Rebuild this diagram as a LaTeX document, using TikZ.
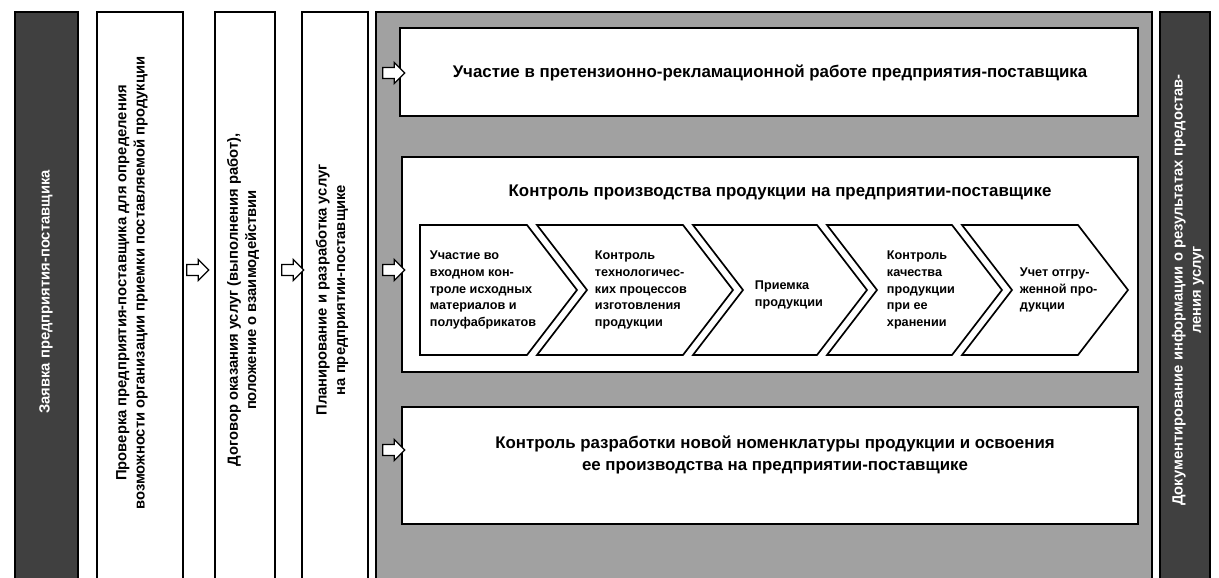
\documentclass[tikz,border=0pt]{standalone}
\usepackage{fontspec}
\setmainfont{Liberation Sans}
\usetikzlibrary{shapes.arrows}

\begin{document}
\begin{tikzpicture}[x=0.025cm,y=-0.025cm,
    darkcol/.style={fill=black!75,draw=black,line width=1.2pt},
    whitecol/.style={fill=white,draw=black,line width=1.2pt},
    panel/.style={fill=black!37,draw=black,line width=1.2pt},
    chev/.style={fill=white,draw=black,line width=1.2pt,line join=miter},
    coltext/.style={rotate=90,align=center,font=\bfseries\fontsize{10.5}{13}\selectfont},
    head/.style={align=center,font=\bfseries\fontsize{12}{15}\selectfont},
    chevtext/.style={anchor=west,align=left,font=\bfseries\fontsize{9}{12}\selectfont},
    blockarrow/.style={single arrow,fill=white,draw=black,line width=0.9pt,minimum height=0.55cm,inner xsep=0pt,inner ysep=3.5pt,single arrow head extend=3.5pt}]
    \clip (0,0) rectangle (1219,578);
    \fill[white] (0,0) rectangle (1219,578);
    % columns on the left
    \path[darkcol] (15,12) rectangle (78,590);
    \path[whitecol] (97,12) rectangle (183,590);
    \path[whitecol] (215,12) rectangle (275,590);
    \path[whitecol] (302,12) rectangle (368,590);
    \node[coltext,text=white] (request) at (46,292) {Заявка предприятия-поставщика};
    \node[coltext] (check) at (132,283) {Проверка предприятия-поставщика для определения\\возможности организации приемки поставляемой продукции};
    \node[coltext] (contract) at (243,300) {Договор оказания услуг (выполнения работ),\\положение о взаимодействии};
    \node[coltext] (plan) at (332,290) {Планирование и разработка услуг\\на предприятии-поставщике};
    \node[blockarrow] (a1) at (195,270) {};
    \node[blockarrow] (a2) at (290,270) {};
    % gray panel
    \path[panel] (376,12) rectangle (1152,590);
    \path[whitecol] (400,28) rectangle (1138,116);
    \path[whitecol] (402,157) rectangle (1138,372);
    \path[whitecol] (402,407) rectangle (1138,524);
    \node[blockarrow] (a3) at (391,73) {};
    \node[blockarrow] (a4) at (391,270) {};
    \node[blockarrow] (a5) at (391,450) {};
    \node[head] (claims) at (770,73) {Участие в претензионно-рекламационной работе предприятия-поставщика};
    \node[head] (prod) at (780,192) {Контроль производства продукции на предприятии-поставщике};
    \node[head] (newprod) at (775,455) {Контроль разработки новой номенклатуры продукции и освоения\\ее производства на предприятии-поставщике};
    % chevrons
    \draw[chev] (420,225) -- (527,225) -- (577,290) -- (527,355) -- (420,355) -- cycle;
    \draw[chev] (537,225) -- (683,225) -- (733,290) -- (683,355) -- (537,355) -- (587,290) -- cycle;
    \draw[chev] (693,225) -- (817,225) -- (867,290) -- (817,355) -- (693,355) -- (743,290) -- cycle;
    \draw[chev] (827,225) -- (952,225) -- (1002,290) -- (952,355) -- (827,355) -- (877,290) -- cycle;
    \draw[chev] (962,225) -- (1078,225) -- (1128,290) -- (1078,355) -- (962,355) -- (1012,290) -- cycle;
    \node[chevtext] (input) at (425,290) {Участие во\\входном кон-\\троле исходных\\материалов и\\полуфабрикатов};
    \node[chevtext] (process) at (590,290) {Контроль\\технологичес-\\ких процессов\\изготовления\\продукции};
    \node[chevtext] (accept) at (750,295) {Приемка\\продукции};
    \node[chevtext] (storage) at (882,290) {Контроль\\качества\\продукции\\при ее\\хранении};
    \node[chevtext] (shipped) at (1015,290) {Учет отгру-\\женной про-\\дукции};
    % right column
    \path[darkcol] (1160,12) rectangle (1210,590);
    \node[coltext,text=white] (report) at (1188,290) {Документирование информации о результатах предостав-\\ления услуг};
\end{tikzpicture}
\end{document}
